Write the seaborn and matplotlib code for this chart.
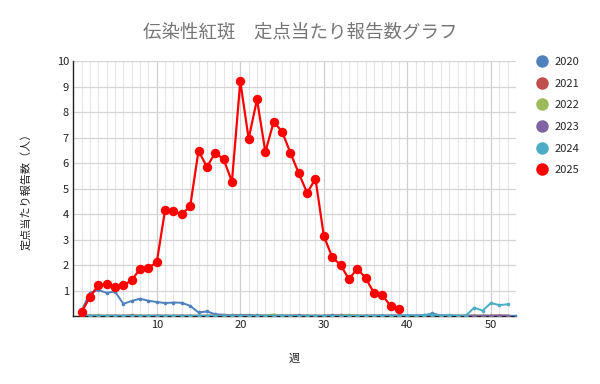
import numpy as np
import pandas as pd
import matplotlib
matplotlib.use("Agg")
import matplotlib.pyplot as plt
from matplotlib.lines import Line2D
from matplotlib.ticker import MultipleLocator
import seaborn as sns

title = "伝染性紅斑　定点当たり報告数グラフ"
x_label = "週"
y_label = "定点当たり報告数（人）"

years = ["2020", "2021", "2022", "2023", "2024", "2025"]
colors = ["#4F81BD", "#C0504D", "#9BBB59", "#8064A2", "#4BACC6", "#FF0000"]

v2020 = [0.20, 0.91, 1.02, 0.91, 0.96, 0.48, 0.59, 0.68, 0.60, 0.55, 0.51, 0.53, 0.52, 0.40,
         0.14, 0.18, 0.07, 0.05, 0.03, 0.04, 0.03, 0.03, 0.02, 0.02, 0.02, 0.01, 0.02, 0.01,
         0.01, 0.01, 0.02, 0.01, 0.01, 0.01, 0.01, 0.01, 0.01, 0.02, 0.02, 0.02, 0.02, 0.03,
         0.10, 0.02, 0.02, 0.01, 0.01, 0.01, 0.01, 0.01, 0.01, 0.01, 0.01]
v2021 = [0.01, 0.02, 0.01, 0.01, 0.02, 0.01, 0.03, 0.01, 0.01, 0.02, 0.01, 0.01, 0.02, 0.01,
         0.01, 0.01, 0.02, 0.01, 0.01, 0.01, 0.02, 0.01, 0.01, 0.01, 0.01, 0.02, 0.01, 0.01,
         0.01, 0.01, 0.01, 0.03, 0.01, 0.01, 0.01, 0.02, 0.01, 0.01, 0.01, 0.01, 0.01, 0.01,
         0.01, 0.01, 0.01, 0.01, 0.01, 0.01, 0.01, 0.01, 0.02, 0.01]
v2022 = [0.01, 0.01, 0.03, 0.01, 0.01, 0.01, 0.01, 0.02, 0.01, 0.01, 0.01, 0.01, 0.01, 0.01,
         0.01, 0.01, 0.01, 0.01, 0.01, 0.01, 0.01, 0.01, 0.02, 0.06, 0.01, 0.01, 0.01, 0.01,
         0.01, 0.01, 0.01, 0.01, 0.05, 0.01, 0.01, 0.01, 0.01, 0.01, 0.01, 0.01, 0.01, 0.01,
         0.01, 0.01, 0.01, 0.01, 0.01, 0.01, 0.02, 0.01, 0.01, 0.01]
v2023 = [0.01, 0.01, 0.01, 0.01, 0.01, 0.01, 0.01, 0.01, 0.01, 0.01, 0.01, 0.01, 0.01, 0.01,
         0.01, 0.01, 0.01, 0.01, 0.01, 0.01, 0.02, 0.01, 0.01, 0.01, 0.01, 0.01, 0.03, 0.01,
         0.01, 0.01, 0.03, 0.01, 0.01, 0.01, 0.01, 0.01, 0.02, 0.01, 0.01, 0.01, 0.01, 0.01,
         0.04, 0.01, 0.01, 0.01, 0.01, 0.01, 0.01, 0.01, 0.02, 0.01]
v2024 = [0.01, 0.02, 0.01, 0.01, 0.01, 0.01, 0.01, 0.01, 0.01, 0.01, 0.01, 0.01, 0.01, 0.01,
         0.01, 0.01, 0.01, 0.01, 0.01, 0.01, 0.01, 0.01, 0.01, 0.01, 0.02, 0.01, 0.01, 0.01,
         0.01, 0.01, 0.01, 0.01, 0.01, 0.01, 0.01, 0.01, 0.02, 0.01, 0.02, 0.03, 0.02, 0.04,
         0.06, 0.02, 0.04, 0.01, 0.02, 0.33, 0.21, 0.51, 0.43, 0.46]
v2025 = [0.15, 0.75, 1.20, 1.25, 1.15, 1.20, 1.40, 1.85, 1.90, 2.10, 4.17, 4.10, 4.00, 4.30,
         6.48, 5.85, 6.40, 6.15, 5.27, 9.20, 6.95, 8.50, 6.43, 7.62, 7.23, 6.40, 5.60, 4.83,
         5.38, 3.14, 2.31, 2.00, 1.45, 1.85, 1.50, 0.90, 0.82, 0.39, 0.27]

series = [v2020, v2021, v2022, v2023, v2024, v2025]

sns.set_theme(style="white")
plt.rcParams["font.family"] = ["Noto Sans CJK JP", "DejaVu Sans"]

fig = plt.figure(figsize=(6, 3.84), dpi=100)
ax = fig.add_axes([0.122, 0.177, 0.738, 0.664])

for yr, vals, c in zip(years, series, colors):
    df = pd.DataFrame({"week": np.arange(1, len(vals) + 1), "value": vals})
    if yr == "2025":
        sns.lineplot(data=df, x="week", y="value", ax=ax, color=c, marker="o",
                     markersize=6.8, linewidth=1.6, markeredgewidth=0, zorder=10)
    else:
        sns.lineplot(data=df, x="week", y="value", ax=ax, color=c, marker="o",
                     markersize=2.6, linewidth=1.4, markeredgewidth=0, zorder=5)

ax.set_xlim(0, 53)
ax.set_ylim(0, 10)
ax.xaxis.set_major_locator(MultipleLocator(10))
ax.xaxis.set_minor_locator(MultipleLocator(1))
ax.yaxis.set_major_locator(MultipleLocator(1))
ax.grid(which="minor", axis="x", color="#e6e6e6", linewidth=0.8)
ax.grid(which="major", axis="x", color="#cfcfcf", linewidth=0.9)
ax.grid(which="major", axis="y", color="#d4d4d4", linewidth=0.9)
ax.set_axisbelow(True)
ax.set_xticks([10, 20, 30, 40, 50])
ax.set_yticks([1, 2, 3, 4, 5, 6, 7, 8, 9, 10])
ax.tick_params(axis="both", labelsize=8, length=0, pad=3, colors="#222222")
for s in ["top", "right"]:
    ax.spines[s].set_visible(False)
ax.spines["left"].set_color("#222222")
ax.spines["left"].set_linewidth(1.0)
ax.spines["bottom"].set_color("#222222")
ax.spines["bottom"].set_linewidth(1.0)

ax.set_xlabel(x_label, fontsize=8, labelpad=17, color="#222222")
ax.set_ylabel(y_label, fontsize=8, labelpad=18, color="#222222")

fig.text(0.5, 0.915, title, ha="center", va="center", fontsize=13.3, color="#757575")

handles = [Line2D([], [], linestyle="none", marker="o", markersize=9,
                  markerfacecolor=c, markeredgewidth=0) for c in colors]
fig.legend(handles, years, loc="upper left", bbox_to_anchor=(0.875, 0.878),
           frameon=False, fontsize=8, labelspacing=1.05, handletextpad=0.6,
           handlelength=1.2)

fig.savefig("out.png", dpi=100)
